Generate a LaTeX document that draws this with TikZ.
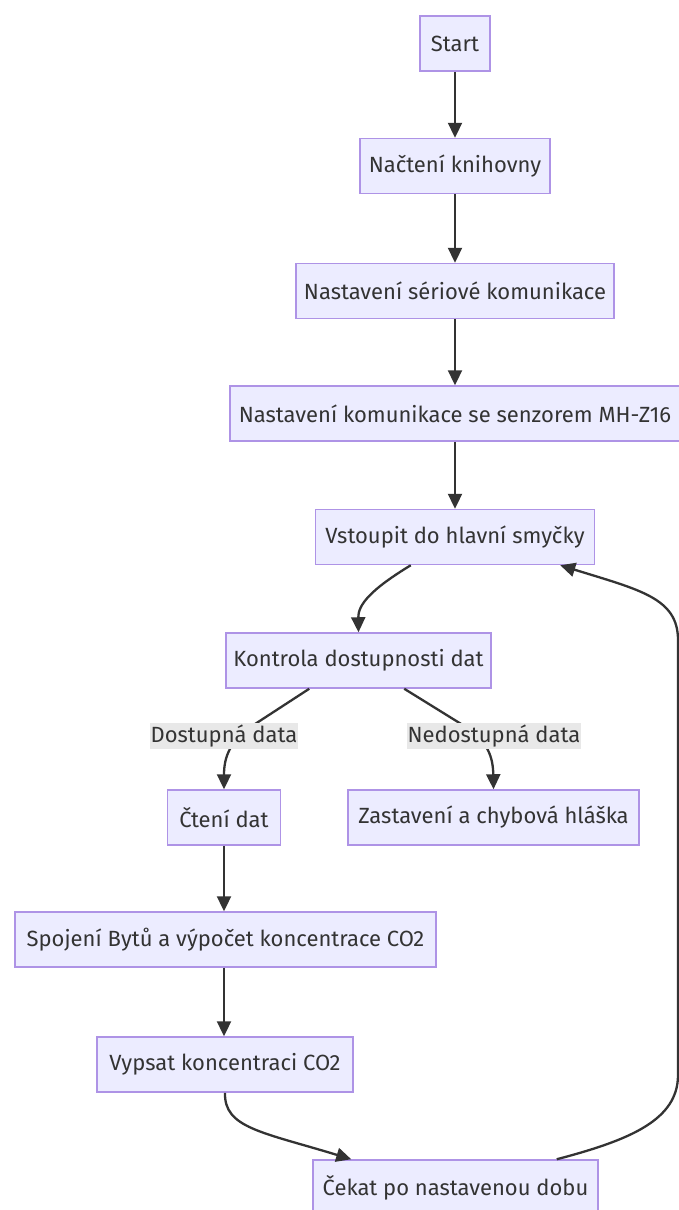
\documentclass[tikz,border=0pt]{standalone}
\usepackage{fontspec}
\setmainfont{Fira Sans}
\usetikzlibrary{arrows.meta}
\definecolor{boxfill}{HTML}{ECECFF}
\definecolor{boxline}{HTML}{AE93E6}
\definecolor{ink}{HTML}{333333}
\definecolor{lblbg}{HTML}{E8E8E8}
\tikzset{
  stepbox/.style={draw=boxline, fill=boxfill, line width=1.5pt, inner sep=0pt,
    minimum height=55pt, text=ink, font=\fontsize{22}{26}\selectfont},
  flow/.style={draw=ink, line width=2.3pt, -{Triangle[length=15pt,width=14pt]}},
  lbl/.style={fill=lblbg, text=ink, inner xsep=1pt, inner ysep=0pt,
    minimum height=26pt, font=\fontsize{22}{26}\selectfont}
}
\begin{document}
\begin{tikzpicture}[x=1pt,y=-1pt]
\useasboundingbox (0,0) rectangle (678,1210);
\fill[white] (0,0) rectangle (678,1210);

% process steps
\node[stepbox, minimum width=70pt]  (start) at (455,43.5)  {Start};
\node[stepbox, minimum width=190pt] (lib)   at (455,166)   {Načtení knihovny};
\node[stepbox, minimum width=318pt] (ser)   at (455,291)   {Nastavení sériové komunikace};
\node[stepbox, minimum width=450pt] (mhz)   at (455,413.5) {Nastavení komunikace se senzorem MH-Z16};
\node[stepbox, minimum width=279pt] (loop)  at (455,537) {Vstoupit do hlavní smyčky};
\node[stepbox, minimum width=265pt] (check) at (358.5,660.5) {Kontrola dostupnosti dat};
\node[stepbox, minimum width=113pt] (read)  at (224,817.5) {Čtení dat};
\node[stepbox, minimum width=291pt] (stop)  at (493.5,817.5) {Zastavení a chybová hláška};
\node[stepbox, minimum width=421pt] (calc)  at (225.5,939.5) {Spojení Bytů a výpočet koncentrace CO2};
\node[stepbox, minimum width=256pt] (print) at (225,1064.5) {Vypsat koncentraci CO2};
\node[stepbox, minimum width=285pt] (wait)  at (455.5,1187.5) {Čekat po nastavenou dobu};

% anchor points for the curved connectors
\coordinate (l1) at ([xshift=96pt]loop.south west);
\coordinate (c1) at ([xshift=84pt]check.south west);
\coordinate (c2) at ([xshift=179pt]check.south west);
\coordinate (w1) at ([xshift=39pt]wait.north west);
\coordinate (w2) at ([xshift=-42pt]wait.north east);
\coordinate (lp) at ([xshift=-35pt]loop.south east);

% straight connectors
\draw[flow] (start.south) -- (lib.north);
\draw[flow] (lib.south) -- (ser.north);
\draw[flow] (ser.south) -- (mhz.north);
\draw[flow] (mhz.south) -- (loop.north);
\draw[flow] (read.south) -- (calc.north -| read.south);
\draw[flow] (calc.south -| read.south) -- (print.north -| read.south);

% into the check
\draw[flow] (l1) .. controls (370,590) and (358,605) .. (check.north);

% branches of the check
\draw[flow] (c1) -- (252,726) .. controls (230,741) and (224,757) .. (read.north);
\draw[flow] (c2) -- (466,727) .. controls (488,742) and (493,757) .. (stop.north);

% branch labels
\node[lbl] (yes) at (224,736) {Dostupná data};
\node[lbl] (no)  at (494,736) {Nedostupná data};

% print to wait
\draw[flow] (print.south) .. controls (224,1128) and (262,1132) .. (w1);

% loop back
\draw[flow] (w2) .. controls (630,1140) and (678,1120) .. (678,1075)
  -- (678,640) .. controls (678,598) and (640,590) .. (lp);
\end{tikzpicture}
\end{document}
